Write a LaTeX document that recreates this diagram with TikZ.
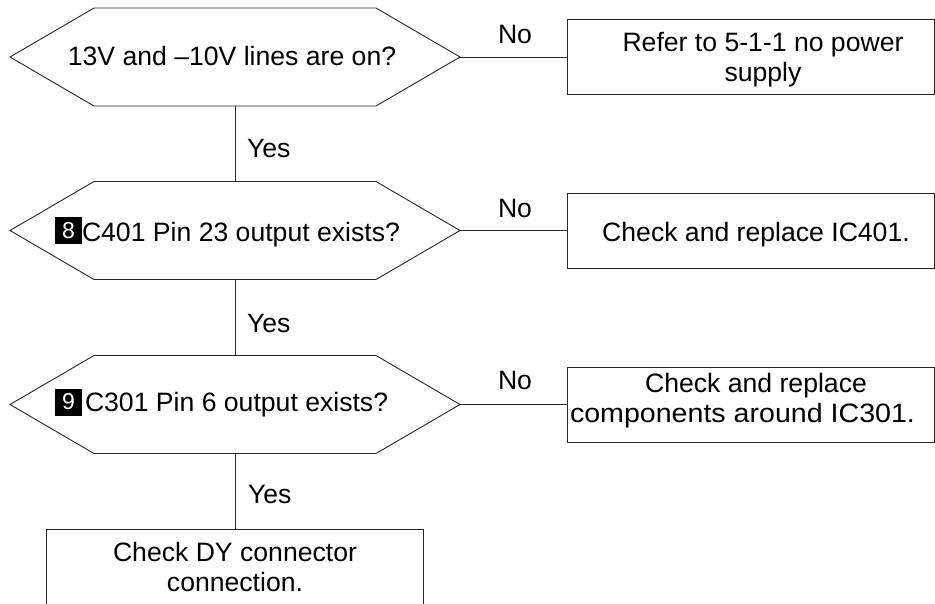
\documentclass[tikz,border=0pt]{standalone}
\usepackage{fontspec}
\setmainfont{Liberation Sans}
\usetikzlibrary{calc}
\begin{document}
\begin{tikzpicture}[x=1pt,y=-1pt,
  every node/.style={inner sep=0pt, outer sep=0pt},
  line/.style={draw=black!85, line width=0.9pt},
  hexcore/.style={minimum width=282, minimum height=98},
  hexline/.style={line, line join=miter},
  result/.style={line, minimum width=367, minimum height=75},
  txt/.style={font=\fontsize{26.6}{30}\selectfont, text=black},
  numbox/.style={fill=black, minimum width=27pt, minimum height=27pt, text=white, font=\fontsize{23}{24}\selectfont}
]
\useasboundingbox (0,0) rectangle (935,603);
\clip (0,0) rectangle (935,603);
\fill[white] (0,0) rectangle (935,603);

% decision hexagon cores
\node[hexcore] (h1) at (235,57) {};
\node[hexcore] (h2) at (235,230.5) {};
\node[hexcore] (h3) at (235,404.5) {};

\foreach \h in {h1,h2,h3}{
  \draw[hexline] (\h.north west) -- (\h.north east) -- ($(\h.east)+(84,0)$) coordinate (\h tip)
    -- (\h.south east) -- (\h.south west) -- ($(\h.west)+(-84,0)$) -- cycle;
}

% result boxes
\node[result] (r1) at (750.5,56.5) {};
\node[result] (r2) at (750.5,230.5) {};
\node[result] (r3) at (750.5,404.5) {};
\node[line, minimum width=377, minimum height=110] (r4) at (234.5,584) {};

% connectors
\draw[line] (h1.south) -- (h2.north);
\draw[line] (h2.south) -- (h3.north);
\draw[line] (h3.south) -- (h3.south |- r4.north);
\draw[line] (h1tip) -- (h1tip -| r1.west);
\draw[line] (h2tip) -- (h2tip -| r2.west);
\draw[line] (h3tip) -- (h3tip -| r3.west);

% decision texts
\node[txt, anchor=base] (t1) at (232,65) {13V and –10V lines are on?};
\node[numbox] (n8) at (68.5,230.5) {8};
\node[txt, anchor=base west] (t2) at (82,241.5) {C401 Pin 23 output exists?};
\node[numbox] (n9) at (68.5,402) {9};
\node[txt, anchor=base west] (t3) at (85,411.7) {C301 Pin 6 output exists?};

% result texts
\node[txt, align=center] (s1) at (763,60.1) {Refer to 5-1-1 no power\\supply};
\node[txt, anchor=base] (s2) at (756,241) {Check and replace IC401.};
\node[txt, align=center] (s3) at (742.5,400.6) {\hspace*{27pt}Check and replace\\\scalebox{1.075}[1]{components around IC301.}};
\node[txt, align=center] (s4) at (235,567.3) {Check DY connector\\connection.};

% branch labels
\node[txt, anchor=base west] (y1) at (247,157) {Yes};
\node[txt, anchor=base west] (y2) at (247,332) {Yes};
\node[txt, anchor=base west] (y3) at (248,503) {Yes};
\node[txt, anchor=base west] (no1) at (498,43) {No};
\node[txt, anchor=base west] (no2) at (498,217) {No};
\node[txt, anchor=base west] (no3) at (498,389) {No};
\end{tikzpicture}
\end{document}
